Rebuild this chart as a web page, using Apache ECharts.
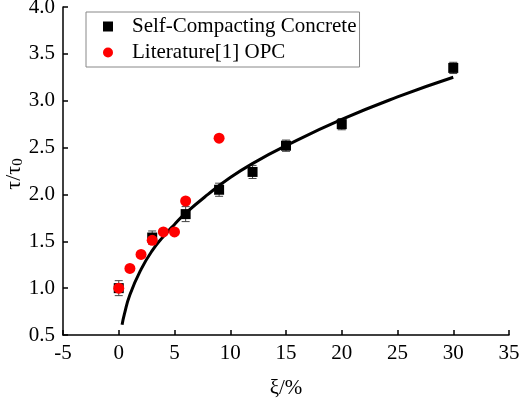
<!DOCTYPE html>
<html><head><meta charset="utf-8">
<script src="https://cdn.jsdelivr.net/npm/echarts@6/dist/echarts.min.js"></script>
<style>html,body{margin:0;padding:0;background:#fff}#c{width:519px;height:399px}</style>
</head><body><div id="c"></div>
<script>
const scX = [0, 3, 6, 9, 12, 15, 20, 30];
const scY = [1.00, 1.54, 1.79, 2.05, 2.24, 2.52, 2.75, 3.35];
const scErr = [0.08, 0.07, 0.08, 0.07, 0.07, 0.06, 0.06, 0.06];
const litX = [0, 1, 2, 3, 4, 5, 6, 9];
const litY = [1.00, 1.21, 1.36, 1.51, 1.60, 1.60, 1.93, 2.60];
const fitX = [0.3, 0.5, 1, 2, 3, 4, 5, 6, 8, 10, 12, 15, 20, 25, 30];
const fitY = [0.61, 0.72, 0.93, 1.20, 1.40, 1.55, 1.68, 1.80, 2.00, 2.18, 2.33, 2.52, 2.80, 3.04, 3.25];
const FONT = 'Liberation Serif';

const chart = echarts.init(document.getElementById('c'));
chart.setOption({
  animation: false,
  grid: {left: 63, right: 10, top: 7, bottom: 64, containLabel: false, outerBoundsMode: 'none'},
  legend: {
    orient: 'vertical', left: 86, top: 12,
    borderColor: '#888', borderWidth: 1,
    padding: [4, 3, 4, 17], itemGap: 5,
    itemWidth: 10, itemHeight: 10,
    textStyle: {fontFamily: FONT, fontSize: 21, color: '#000', padding: [0, 0, 0, 14]},
    data: ['Self-Compacting Concrete', 'Literature[1] OPC']
  },
  xAxis: {
    type: 'value', min: -5, max: 35, interval: 5,
    name: 'ξ/%', nameLocation: 'middle', nameGap: 43, nameMoveOverlap: false,
    nameTextStyle: {fontFamily: FONT, fontSize: 21, color: '#000'},
    axisLine: {onZero: false, lineStyle: {color: '#000', width: 1.5}},
    axisTick: {inside: true, length: 5, lineStyle: {color: '#000', width: 1.5}},
    axisLabel: {fontFamily: FONT, fontSize: 21, color: '#000', margin: 8},
    splitLine: {show: false}
  },
  yAxis: {
    type: 'value', min: 0.5, max: 4.0, interval: 0.5,
    name: '{a|τ/τ}{s|0}', nameLocation: 'middle', nameGap: 37, nameRotate: 90, nameMoveOverlap: false,
    nameTextStyle: {fontFamily: FONT, fontSize: 22, color: '#000', padding: [0, 6, 0, 0],
      rich: {a: {fontFamily: FONT, fontSize: 22, color: '#000'},
             s: {fontFamily: FONT, fontSize: 15, color: '#000', verticalAlign: 'bottom', padding: [9, 0, 0, 0]}}},
    axisLine: {show: true, onZero: false, lineStyle: {color: '#000', width: 1.5}},
    axisTick: {show: true, inside: true, length: 5, lineStyle: {color: '#000', width: 1.5}},
    axisLabel: {fontFamily: FONT, fontSize: 21, color: '#000', margin: 8, formatter: v => v.toFixed(1)},
    splitLine: {show: false}
  },
  series: [
    {
      type: 'custom', name: 'err', z: 1, silent: true,
      data: scX.map((x, i) => [x, scY[i], scErr[i]]),
      renderItem: function (params, api) {
        const x = api.value(0), y = api.value(1), e = api.value(2);
        const top = api.coord([x, y + e]), bot = api.coord([x, y - e]);
        const w = 4;
        const st = {stroke: '#444', lineWidth: 1};
        return {type: 'group', children: [
          {type: 'line', shape: {x1: top[0], y1: top[1], x2: bot[0], y2: bot[1]}, style: st},
          {type: 'line', shape: {x1: top[0] - w, y1: top[1], x2: top[0] + w, y2: top[1]}, style: st},
          {type: 'line', shape: {x1: bot[0] - w, y1: bot[1], x2: bot[0] + w, y2: bot[1]}, style: st}
        ]};
      }
    },
    {
      type: 'line', name: 'fit', z: 2, smooth: true, symbol: 'none',
      lineStyle: {color: '#000', width: 3},
      data: fitX.map((x, i) => [x, fitY[i]])
    },
    {
      type: 'scatter', name: 'Self-Compacting Concrete', z: 3,
      symbol: 'rect', symbolSize: 10,
      itemStyle: {color: '#000', opacity: 1},
      data: scX.map((x, i) => [x, scY[i]])
    },
    {
      type: 'scatter', name: 'Literature[1] OPC', z: 4,
      symbol: 'circle', symbolSize: 11,
      itemStyle: {color: '#ff0000', opacity: 1},
      data: litX.map((x, i) => [x, litY[i]])
    }
  ]
});
</script></body></html>
